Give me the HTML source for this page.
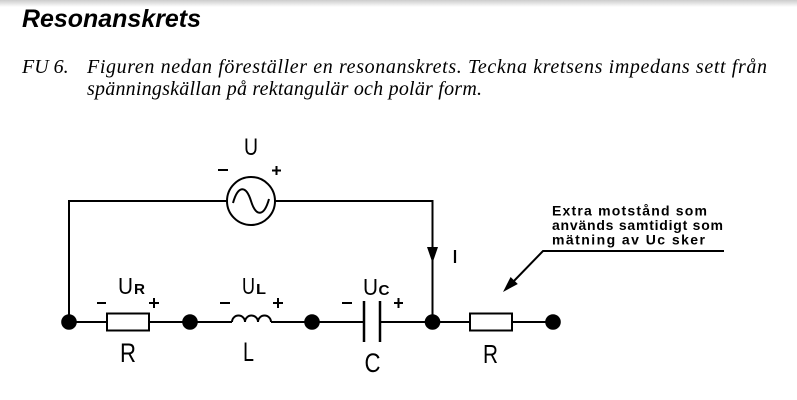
<!DOCTYPE html>
<html>
<head>
<meta charset="utf-8">
<style>
  html, body { margin: 0; padding: 0; background: #fff; }
  svg { display: block; }
</style>
</head>
<body>
<svg width="797" height="400" viewBox="0 0 797 400" xmlns="http://www.w3.org/2000/svg">
  <defs>
    <linearGradient id="g" x1="0" y1="0" x2="0" y2="1">
      <stop offset="0" stop-color="#cccccc"/>
      <stop offset="1" stop-color="#ffffff"/>
    </linearGradient>
  </defs>
  <rect width="797" height="400" fill="#fff"/>
  <rect width="797" height="7" fill="url(#g)"/>

  <!-- Title -->
  <text x="22" y="27" font-family="Liberation Sans, sans-serif" font-weight="bold" font-style="italic" font-size="25" textLength="179" lengthAdjust="spacingAndGlyphs" fill="#000">Resonanskrets</text>

  <!-- Body text -->
  <g font-family="Liberation Serif, serif" font-style="italic" font-size="20" fill="#000">
    <text x="22" y="73">FU 6.</text>
    <text x="87" y="73" textLength="680" lengthAdjust="spacing">Figuren nedan föreställer en resonanskrets. Teckna kretsens impedans sett från</text>
    <text x="87" y="95" textLength="395" lengthAdjust="spacing">spänningskällan på rektangulär och polär form.</text>
  </g>

  <!-- Circuit wires -->
  <g stroke="#000" stroke-width="2" fill="none">
    <path d="M69,322 V201 H227 M275,201 H432.5 V322"/>
    <circle cx="251" cy="201" r="24"/>
    <path d="M233,203 C238,185 246,185 251,201 C256,217 264,217 269,199"/>
    <path d="M69,322 H107 M149,322 H232 M271,322 H364 M380,322 H470 M512,322 H553"/>
    <rect x="107" y="313.5" width="42" height="17" fill="#fff"/>
    <rect x="470" y="313.5" width="42" height="17" fill="#fff"/>
    <path d="M232,322 a6.5,6.5 0 0 1 13,0 a6.5,6.5 0 0 1 13,0 a6.5,6.5 0 0 1 13,0"/>
    <path d="M364,301 V342 M380,301 V342" stroke-width="2.5"/>
    <path d="M724,251 H543 L512,283"/>
    <!-- signs -->
    <path d="M218,170 H228 M272,170.5 H281 M276.5,166 V175"/>
    <path d="M97,303 H106 M149,303 H159 M154,298 V308"/>
    <path d="M220,303 H230 M273,303 H283 M278,298 V308"/>
    <path d="M342,303 H352 M394,303 H403 M398.5,298 V308"/>
    <!-- current label I -->
    <path d="M455,250 V263" stroke-width="2.2"/>
  </g>

  <!-- arrows -->
  <polygon points="427,247 438,247 432.5,263" fill="#000"/>
  <polygon points="503,292 517.8,284 510.6,277" fill="#000"/>

  <!-- nodes -->
  <g fill="#000">
    <circle cx="69" cy="322" r="7.8"/>
    <circle cx="190" cy="322" r="7.8"/>
    <circle cx="312" cy="322" r="7.8"/>
    <circle cx="432.5" cy="322" r="7.8"/>
    <circle cx="553" cy="322" r="7.8"/>
  </g>

  <!-- labels -->
  <g font-family="Liberation Sans, sans-serif" fill="#000">
    <text x="244" y="155" font-size="24" textLength="14" lengthAdjust="spacingAndGlyphs">U</text>

    <text x="118" y="294" font-size="23" textLength="15" lengthAdjust="spacingAndGlyphs">U</text>
    <text x="134" y="294" font-size="14.5" font-weight="bold" textLength="11" lengthAdjust="spacingAndGlyphs">R</text>

    <text x="242" y="294" font-size="23" textLength="13" lengthAdjust="spacingAndGlyphs">U</text>
    <text x="256" y="294" font-size="14.5" font-weight="bold" textLength="10" lengthAdjust="spacingAndGlyphs">L</text>

    <text x="363" y="295" font-size="23" textLength="15" lengthAdjust="spacingAndGlyphs">U</text>
    <text x="378.5" y="295" font-size="14.5" font-weight="bold" textLength="11" lengthAdjust="spacingAndGlyphs">C</text>

    <text x="120" y="362" font-size="27" textLength="16" lengthAdjust="spacingAndGlyphs">R</text>
    <text x="243" y="361" font-size="27" textLength="11" lengthAdjust="spacingAndGlyphs">L</text>
    <text x="364.5" y="372" font-size="27" textLength="16" lengthAdjust="spacingAndGlyphs">C</text>
    <text x="483" y="363" font-size="26" textLength="15" lengthAdjust="spacingAndGlyphs">R</text>
  </g>

  <!-- annotation -->
  <g font-family="Liberation Sans, sans-serif" font-weight="bold" font-size="14" fill="#000">
    <text x="552" y="215.5" textLength="155" lengthAdjust="spacing">Extra motstånd som</text>
    <text x="552" y="230" textLength="171" lengthAdjust="spacing">används samtidigt som</text>
    <text x="552" y="244.5" textLength="153" lengthAdjust="spacing">mätning av Uc sker</text>
  </g>
</svg>
</body>
</html>
